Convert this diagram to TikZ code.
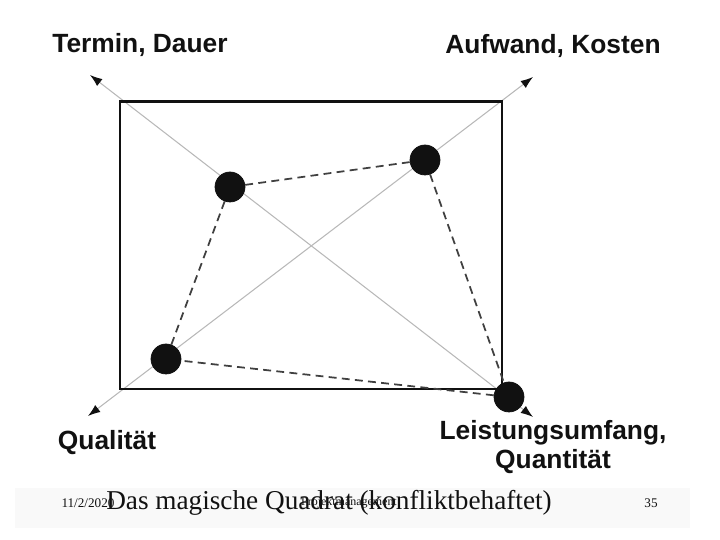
\documentclass[tikz,border=0pt]{standalone}
\usepackage{fontspec}
\setmainfont{Liberation Serif}
\newfontfamily\labfont{Liberation Sans}
\usepackage{xcolor}
\usepackage{tikz}
\usetikzlibrary{arrows.meta}
\definecolor{ink}{HTML}{111111}
\definecolor{axisgray}{HTML}{B8B8B8}
\definecolor{dashgray}{HTML}{404040}
\definecolor{band}{HTML}{F9F9F9}
\tikzset{
  frame/.style={draw=ink, line width=1.7pt},
  axisline/.style={draw=axisgray, line width=0.6pt, {Latex[length=7pt,width=5pt,color=ink]}-{Latex[length=7pt,width=5pt,color=ink]}},
  dashline/.style={draw=dashgray, line width=1pt, dash pattern=on 4.5pt off 3pt},
  dot/.style={circle, fill=ink, draw=ink, inner sep=0pt, minimum size=0.6cm},
  lab/.style={text=ink, font=\labfont\bfseries\fontsize{15}{16.5}\selectfont, align=center},
  foot/.style={text=ink, font=\fontsize{7.5}{8}\selectfont},
}

\begin{document}
\begin{tikzpicture}
  \useasboundingbox (0,0) rectangle (14.4,10.8);
  \fill[band] (0.3,0.24) rectangle (13.8,1.04);
  % axes
  \coordinate (TL) at (1.80,9.30);
  \coordinate (TR) at (10.66,9.26);
  \coordinate (BL) at (1.76,2.48);
  \coordinate (BR) at (10.66,2.46);
  \draw[axisline] (BL) -- (TR);
  \draw[axisline] (TL) -- (BR);
  \draw[frame] (2.40,8.76) rectangle (10.04,3.02);
  % points of the square
  \node[dot] (termin) at (4.60,7.06) {};
  \node[dot] (aufwand) at (8.50,7.60) {};
  \node[dot] (qualitaet) at (3.32,3.62) {};
  \node[dot] (leistung) at (10.18,2.86) {};
  \draw[dashline] (termin) -- (aufwand) -- (leistung) -- (qualitaet) -- (termin);
  % labels
  \node[lab] (lTermin) at (2.80,9.90) {Termin, Dauer};
  \node[lab] (lAufwand) at (11.06,9.88) {Aufwand, Kosten};
  \node[lab] (lQual) at (2.14,1.94) {Qualität};
  \node[lab] (lLeist) at (11.06,1.86) {Leistungsumfang,\\Quantität};
  % footer
  \node[text=ink, font=\fontsize{15.5}{17}\selectfont] (title) at (6.58,0.74) {Das magische Quadrat (konfliktbehaftet)};
  \node[foot] (date) at (1.76,0.74) {11/2/2020};
  \node[foot, font=\fontsize{6.8}{8}\selectfont] (pm) at (6.98,0.74) {Projektmanagement};
  \node[foot] (page) at (13.02,0.74) {35};
\end{tikzpicture}
\end{document}
